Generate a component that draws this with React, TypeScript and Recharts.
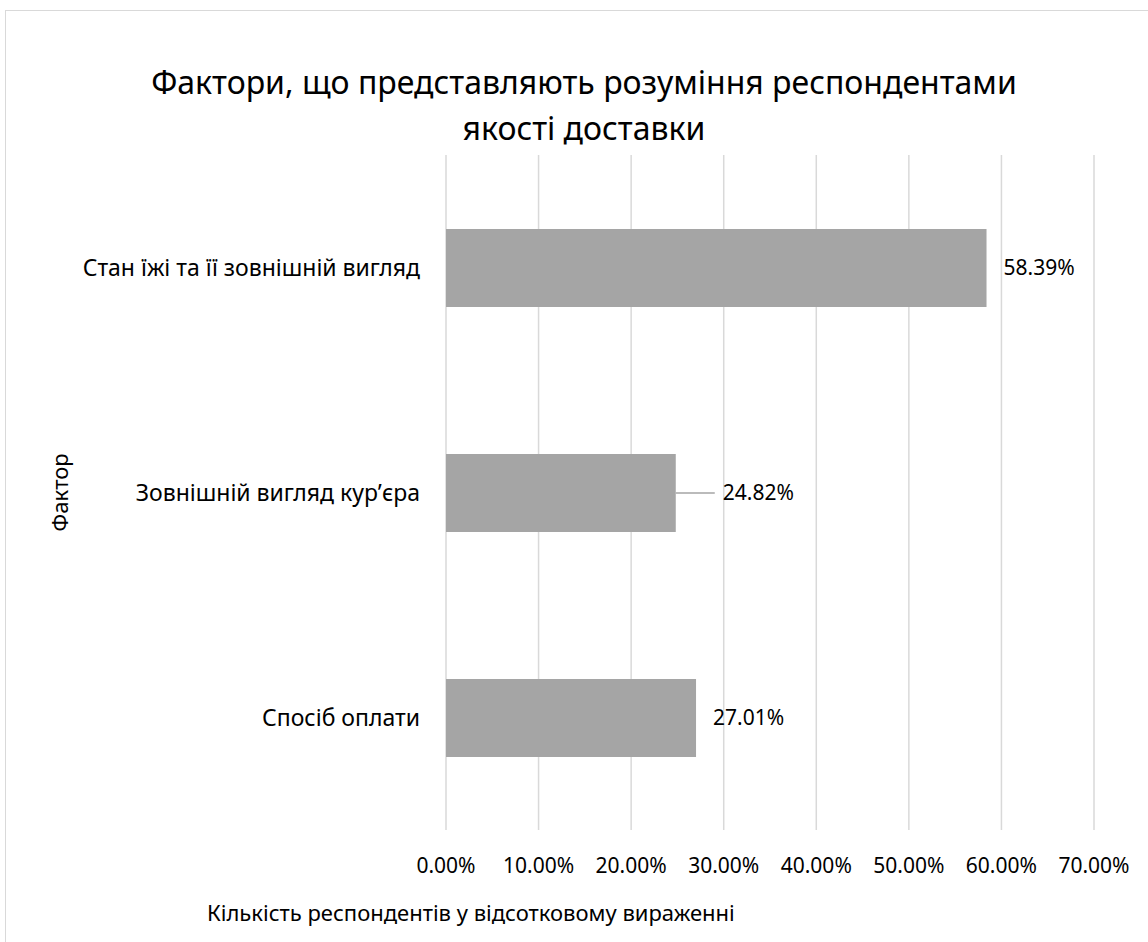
import React from 'react';
import { BarChart, Bar, XAxis, YAxis, CartesianGrid, LabelList, Label } from 'recharts';

const categories = ['Стан їжі та її зовнішній вигляд', 'Зовнішній вигляд кур’єра', 'Спосіб оплати'];
const values = [0.5839, 0.2482, 0.2701];
const xTicks = [0, 0.1, 0.2, 0.3, 0.4, 0.5, 0.6, 0.7];
const titleLines = ['Фактори, що представляють розуміння респондентами', 'якості доставки'];
const xTitle = 'Кількість респондентів у відсотковому вираженні';
const yTitle = 'Фактор';

const data = categories.map((name, i) => ({ name, value: values[i] }));

const FONT = '"Noto Sans", "Open Sans", sans-serif';
const TEXT = '#000000';

const fmt = (v: number) => (v * 100).toFixed(2) + '%';

const ValueLabel = (props: any) => {
  const { x, y, width, height, value, index } = props;
  const endX = Number(x) + Number(width);
  const cy = Number(y) + Number(height) / 2;
  if (index === 1) {
    return (
      <g>
        <line x1={endX} y1={cy} x2={endX + 39} y2={cy} stroke="#a5a5a5" strokeWidth={1.5} />
        <text x={endX + 47} y={cy} dy="0.35em" fontSize={21} fontFamily={FONT} fill={TEXT}>
          {fmt(value)}
        </text>
      </g>
    );
  }
  return (
    <text x={endX + 17} y={cy} dy="0.35em" fontSize={21} fontFamily={FONT} fill={TEXT}>
      {fmt(value)}
    </text>
  );
};

export default function App() {
  return (
    <div style={{ position: 'absolute', left: 0, top: 0, width: 1148, height: 942, background: '#fff', overflow: 'hidden' }}>
      <div
        style={{
          position: 'absolute',
          left: 5,
          top: 10,
          width: 1143,
          height: 932,
          borderTop: '1.5px solid #d9d9d9',
          borderLeft: '1.5px solid #d9d9d9',
          boxSizing: 'border-box',
        }}
      />
      <div
        style={{
          position: 'absolute',
          left: 10,
          top: 59,
          width: 1148,
          textAlign: 'center',
          fontFamily: FONT,
          fontSize: 32,
          lineHeight: '46px',
          color: TEXT,
        }}
      >
        {titleLines.map((t, i) => (
          <div key={i}>{t}</div>
        ))}
      </div>
      <div style={{ position: 'absolute', left: 0, top: 0 }}>
        <BarChart
          width={1148}
          height={942}
          data={data}
          layout="vertical"
          margin={{ top: 155, right: 54, bottom: 0, left: 0 }}
        >
          <CartesianGrid horizontal={false} vertical={true} stroke="#d9d9d9" strokeWidth={1.5} />
          <XAxis
            type="number"
            domain={[0, 0.7]}
            ticks={xTicks}
            tickFormatter={fmt}
            axisLine={false}
            tickLine={false}
            tickSize={0}
            tickMargin={28}
            height={112}
            interval={0}
            tick={{ fontSize: 21, fontFamily: FONT, fill: TEXT }}
          >
            <Label
              content={() => (
                <text x={207} y={913} dy="0.35em" fontSize={22} fontFamily={FONT} fill={TEXT}>
                  {xTitle}
                </text>
              )}
            />
          </XAxis>
          <YAxis
            type="category"
            dataKey="name"
            width={446}
            axisLine={false}
            tickLine={false}
            tickSize={0}
            tickMargin={26}
            tick={{ fontSize: 23, fontFamily: FONT, fill: TEXT }}
          >
            <Label
              content={(p: any) => {
                const vb = p.viewBox || {};
                const cy = Number(vb.y) + Number(vb.height) / 2;
                return (
                  <text
                    x={60}
                    y={cy}
                    transform={`rotate(-90, 60, ${cy})`}
                    textAnchor="middle"
                    dy="0.35em"
                    fontSize={22}
                    fontFamily={FONT}
                    fill={TEXT}
                  >
                    {yTitle}
                  </text>
                );
              }}
            />
          </YAxis>
          <Bar dataKey="value" fill="#a5a5a5" barSize={78} isAnimationActive={false}>
            <LabelList dataKey="value" content={ValueLabel} />
          </Bar>
        </BarChart>
      </div>
    </div>
  );
}
